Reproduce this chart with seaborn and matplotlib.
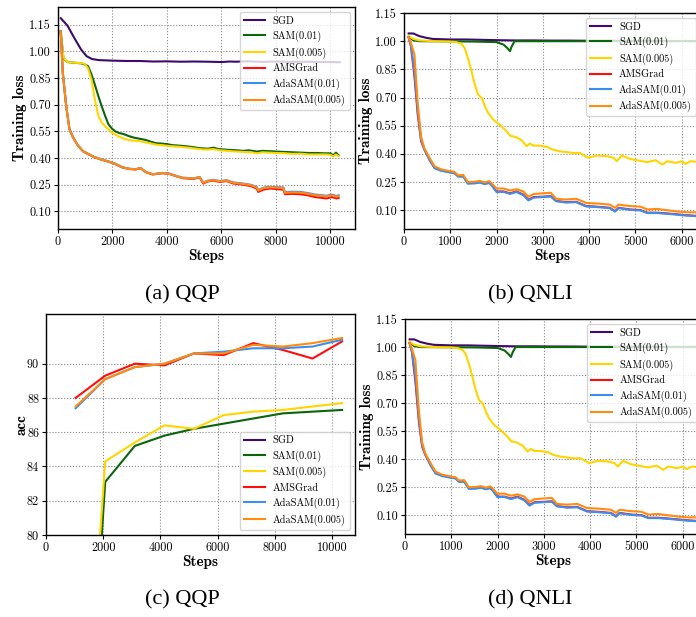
import matplotlib
matplotlib.use("Agg")
import matplotlib.pyplot as plt
import seaborn as sns

# ---------------- data ----------------
names = ["SGD", "SAM(0.01)", "SAM(0.005)", "AMSGrad", "AdaSAM(0.01)", "AdaSAM(0.005)"]
colors = ["#3d0b6b", "#0b650b", "#ffd500", "#ff0d0d", "#3b8ef0", "#ff8c10"]

# (a) QQP training loss
qqp_sgd_x = [100, 350, 600, 850, 1050, 1250, 1500, 2000, 2500, 3000, 3500, 4000, 4500, 5000,
             5500, 6000, 6300, 6500, 7000, 7500, 8000, 8500, 9000, 9500, 10000, 10350]
qqp_sgd_y = [1.187, 1.145, 1.075, 1.01, 0.973, 0.957, 0.951, 0.948, 0.946, 0.946, 0.943, 0.944,
             0.942, 0.943, 0.942, 0.940, 0.943, 0.942, 0.944, 0.941, 0.943, 0.941, 0.942, 0.941,
             0.940, 0.939]

qqp_sam01_x = [100, 200, 350, 600, 850, 1000, 1100, 1230, 1350, 1480, 1600, 1730, 1850, 1975,
               2100, 2250, 2400, 2600, 2800, 3000, 3200, 3400, 3600, 3800, 4000, 4200, 4400,
               4700, 5000, 5200, 5500, 5700, 5900, 6200, 6500, 6800, 7000, 7300, 7500, 7800,
               8000, 8300, 8600, 8900, 9200, 9500, 9800, 10000, 10100, 10200, 10300]
qqp_sam01_y = [1.113, 0.96, 0.940, 0.936, 0.933, 0.925, 0.917, 0.87, 0.814, 0.749, 0.693, 0.637,
               0.59, 0.566, 0.55, 0.54, 0.535, 0.523, 0.514, 0.508, 0.502, 0.492, 0.483, 0.481,
               0.478, 0.472, 0.470, 0.466, 0.460, 0.455, 0.452, 0.458, 0.450, 0.446, 0.444, 0.440,
               0.443, 0.436, 0.440, 0.438, 0.436, 0.434, 0.432, 0.430, 0.428, 0.428, 0.426, 0.426,
               0.414, 0.430, 0.415]

qqp_sam005_x = [100, 200, 350, 600, 850, 980, 1100, 1230, 1350, 1480, 1600, 1700, 1800, 1975,
                2220, 2470, 2700, 2850, 3000, 3200, 3400, 3600, 3800, 4100, 4400, 4800, 5100,
                5300, 5500, 5700, 5900, 6200, 6500, 6800, 7100, 7300, 7500, 7800, 8000, 8300,
                8600, 8900, 9200, 9500, 9800, 10000, 10100, 10200, 10300]
qqp_sam005_y = [1.113, 0.963, 0.940, 0.936, 0.934, 0.930, 0.905, 0.842, 0.73, 0.637, 0.60, 0.583,
                0.568, 0.544, 0.521, 0.506, 0.498, 0.497, 0.495, 0.488, 0.482, 0.475, 0.472,
                0.467, 0.464, 0.458, 0.452, 0.448, 0.447, 0.450, 0.444, 0.440, 0.437, 0.434,
                0.432, 0.426, 0.432, 0.430, 0.428, 0.427, 0.423, 0.424, 0.420, 0.420, 0.420,
                0.418, 0.408, 0.420, 0.410]

qqp_ada_x = [100, 175, 300, 420, 550, 730, 920, 1100, 1350, 1600, 1850, 2100, 2350, 2600, 2850,
             3030, 3220, 3470, 3840, 4090, 4340, 4580, 4960, 5200, 5330, 5500, 5700, 5950, 6190,
             6440, 6680, 6930, 7100, 7290, 7350, 7550, 7780, 8000, 8270, 8330, 8600, 8880, 9150,
             9430, 9650, 9860, 10045, 10230, 10300]
qqp_ams_y = [1.113, 0.88, 0.693, 0.562, 0.516, 0.469, 0.437, 0.422, 0.403, 0.39, 0.379, 0.366,
             0.347, 0.338, 0.335, 0.342, 0.32, 0.307, 0.314, 0.31, 0.297, 0.286, 0.282, 0.29,
             0.256, 0.268, 0.272, 0.265, 0.27, 0.256, 0.252, 0.246, 0.240, 0.228, 0.209, 0.222,
             0.228, 0.225, 0.222, 0.196, 0.198, 0.196, 0.19, 0.18, 0.176, 0.172, 0.18, 0.172, 0.175]
qqp_ada01_y = [1.113, 0.88, 0.695, 0.564, 0.518, 0.471, 0.439, 0.424, 0.405, 0.392, 0.381, 0.368,
               0.349, 0.340, 0.337, 0.344, 0.322, 0.309, 0.316, 0.312, 0.299, 0.289, 0.285, 0.293,
               0.262, 0.272, 0.277, 0.270, 0.275, 0.262, 0.258, 0.253, 0.248, 0.237, 0.220, 0.233,
               0.238, 0.236, 0.234, 0.208, 0.210, 0.209, 0.203, 0.194, 0.191, 0.187, 0.194, 0.186,
               0.190]
qqp_ada005_y = [1.113, 0.88, 0.694, 0.563, 0.517, 0.470, 0.438, 0.423, 0.404, 0.391, 0.380, 0.367,
                0.348, 0.339, 0.336, 0.343, 0.321, 0.308, 0.315, 0.311, 0.298, 0.288, 0.284, 0.292,
                0.260, 0.271, 0.275, 0.268, 0.273, 0.260, 0.256, 0.251, 0.246, 0.234, 0.216, 0.230,
                0.235, 0.233, 0.230, 0.204, 0.206, 0.205, 0.199, 0.190, 0.187, 0.183, 0.190, 0.182,
                0.186]

# (b)/(d) QNLI training loss
qnli_sgd_x = [100, 200, 330, 480, 620, 1000, 1350, 1700, 2100, 2400, 2800, 3200, 3600, 4000,
              4500, 5000, 5500, 6000, 6400]
qnli_sgd_y = [1.041, 1.041, 1.027, 1.018, 1.012, 1.009, 1.009, 1.007, 1.005, 1.004, 1.004,
              1.003, 1.003, 1.002, 1.002, 1.002, 1.001, 1.001, 1.001]

qnli_sam01_x = [100, 200, 330, 1000, 1500, 2000, 2150, 2230, 2290, 2330, 2390, 3000, 4000, 5000,
                6000, 6400]
qnli_sam01_y = [1.023, 1.005, 1.0, 0.999, 0.998, 0.995, 0.982, 0.964, 0.947, 0.973, 1.0, 1.0,
                1.0, 1.0, 1.0, 1.0]

qnli_sam005_x = [100, 200, 330, 620, 990, 1130, 1240, 1310, 1380, 1460, 1530, 1600, 1680, 1750,
                 1820, 1930, 2070, 2220, 2290, 2430, 2540, 2650, 2720, 2800, 2940, 3090, 3210,
                 3360, 3650, 3800, 3980, 4160, 4380, 4530, 4600, 4710, 4890, 5040, 5260, 5440,
                 5580, 5690, 5880, 6000, 6090, 6200, 6400]
qnli_sam005_y = [1.027, 1.012, 1.004, 1.0, 0.998, 0.995, 0.986, 0.964, 0.911, 0.84, 0.769, 0.716,
                 0.698, 0.653, 0.618, 0.582, 0.555, 0.52, 0.497, 0.488, 0.473, 0.441, 0.455, 0.444,
                 0.444, 0.437, 0.423, 0.414, 0.405, 0.405, 0.379, 0.391, 0.388, 0.379, 0.361,
                 0.391, 0.373, 0.366, 0.356, 0.366, 0.343, 0.361, 0.352, 0.361, 0.347, 0.361, 0.356]

qnli_ada_x = [100, 150, 225, 300, 370, 440, 550, 660, 800, 990, 1090, 1170, 1280, 1380, 1530,
              1640, 1750, 1840, 1890, 2000, 2150, 2290, 2430, 2580, 2690, 2800, 2990, 3175, 3285,
              3500, 3720, 3940, 4160, 4450, 4560, 4640, 4890, 5110, 5260, 5470, 5690, 5910, 6130,
              6400]
qnli_ams_y = [1.02, 0.973, 0.814, 0.601, 0.468, 0.423, 0.37, 0.326, 0.313, 0.303, 0.299, 0.281,
              0.281, 0.245, 0.245, 0.25, 0.241, 0.248, 0.236, 0.2, 0.2, 0.19, 0.2, 0.183, 0.156,
              0.17, 0.172, 0.175, 0.15, 0.143, 0.145, 0.122, 0.119, 0.113, 0.095, 0.113, 0.104,
              0.101, 0.087, 0.087, 0.083, 0.078, 0.073, 0.069]
qnli_ada01_y = [1.02, 0.98, 0.84, 0.62, 0.475, 0.425, 0.368, 0.324, 0.31, 0.301, 0.297, 0.279,
                0.279, 0.241, 0.243, 0.247, 0.239, 0.245, 0.234, 0.197, 0.198, 0.187, 0.197,
                0.180, 0.152, 0.167, 0.170, 0.173, 0.148, 0.141, 0.143, 0.120, 0.117, 0.111,
                0.093, 0.111, 0.102, 0.099, 0.085, 0.085, 0.081, 0.076, 0.071, 0.067]
qnli_ada005_y = [1.02, 0.99, 0.93, 0.66, 0.49, 0.43, 0.38, 0.334, 0.318, 0.308, 0.304, 0.286,
                 0.288, 0.25, 0.252, 0.256, 0.248, 0.255, 0.245, 0.215, 0.216, 0.205, 0.212, 0.2,
                 0.172, 0.186, 0.19, 0.193, 0.161, 0.157, 0.161, 0.139, 0.136, 0.13, 0.113, 0.13,
                 0.122, 0.119, 0.104, 0.107, 0.1, 0.093, 0.089, 0.089]

# (c) QQP accuracy
acc_steps = [1035, 2070, 3105, 4140, 5175, 6210, 7245, 8280, 9315, 10350]
acc_sgd = [63.2, 63.2, 63.2, 63.2, 63.2, 63.2, 63.2, 63.2, 63.2, 63.2]
acc_sam01 = [56.5, 83.1, 85.2, 85.8, 86.2, 86.5, 86.8, 87.1, 87.2, 87.3]
acc_sam005 = [59.6, 84.3, 85.4, 86.4, 86.2, 87.0, 87.2, 87.3, 87.5, 87.7]
acc_ams = [88.0, 89.3, 90.0, 89.9, 90.6, 90.5, 91.2, 90.8, 90.3, 91.3]
acc_ada01 = [87.4, 89.1, 89.8, 90.0, 90.6, 90.7, 90.9, 90.9, 91.0, 91.4]
acc_ada005 = [87.5, 89.1, 89.8, 90.0, 90.6, 90.6, 91.1, 91.0, 91.2, 91.5]

qqp_loss = [(qqp_sgd_x, qqp_sgd_y), (qqp_sam01_x, qqp_sam01_y), (qqp_sam005_x, qqp_sam005_y),
            (qqp_ada_x, qqp_ams_y), (qqp_ada_x, qqp_ada01_y), (qqp_ada_x, qqp_ada005_y)]
qnli_loss = [(qnli_sgd_x, qnli_sgd_y), (qnli_sam01_x, qnli_sam01_y), (qnli_sam005_x, qnli_sam005_y),
             (qnli_ada_x, qnli_ams_y), (qnli_ada_x, qnli_ada01_y), (qnli_ada_x, qnli_ada005_y)]
qqp_acc = [(acc_steps, a) for a in [acc_sgd, acc_sam01, acc_sam005, acc_ams, acc_ada01, acc_ada005]]

loss_ticks = [0.10, 0.25, 0.40, 0.55, 0.70, 0.85, 1.00, 1.15]

# ---------------- plotting ----------------
plt.rcParams["font.family"] = "cmr10"
plt.rcParams["axes.unicode_minus"] = False
plt.rcParams["axes.linewidth"] = 1.0

fig = plt.figure(figsize=(6.96, 6.17), dpi=100)
W, H = 696, 617


def make_axes(left, top, right, bottom):
    return fig.add_axes([left / W, 1 - bottom / H, (right - left) / W, (bottom - top) / H])


def draw(ax, series, loc):
    for (x, y), name, c in zip(series, names, colors):
        sns.lineplot(x=x, y=y, ax=ax, color=c, label=name, linewidth=1.5)
    ax.grid(True, linestyle=":", color="#888888", linewidth=0.8)
    ax.set_axisbelow(True)
    ax.set_xlabel("Steps", family="cmb10", fontsize=11, labelpad=1)
    ax.tick_params(labelsize=8.8, length=3, width=0.8, pad=2)
    leg = ax.legend(loc=loc, fontsize=7.4, handlelength=2.0, borderaxespad=0.5)
    leg.get_frame().set_edgecolor("#cccccc")


ax_a = make_axes(58, 7, 355, 229)
draw(ax_a, qqp_loss, "upper right")
ax_a.set_xlim(0, 10900)
ax_a.set_ylim(0, 1.25)
ax_a.set_yticks(loss_ticks)
ax_a.set_yticklabels([f"{t:.2f}" for t in loss_ticks])
ax_a.set_xticks(range(0, 10001, 2000))
ax_a.set_ylabel("Training loss", family="cmb10", fontsize=11, labelpad=2)

ax_b = make_axes(404, 13, 701, 229)
draw(ax_b, qnli_loss, "upper right")
ax_b.set_xlim(0, 6420)
ax_b.set_ylim(0, 1.15)
ax_b.set_yticks(loss_ticks)
ax_b.set_yticklabels([f"{t:.2f}" for t in loss_ticks])
ax_b.set_xticks(range(0, 6001, 1000))
ax_b.set_ylabel("Training loss", family="cmb10", fontsize=11, labelpad=2)

ax_c = make_axes(46, 314, 355, 535)
draw(ax_c, qqp_acc, "lower right")
ax_c.set_xlim(0, 10800)
ax_c.set_ylim(80, 92.9)
ax_c.set_yticks([80, 82, 84, 86, 88, 90])
ax_c.set_xticks(range(0, 10001, 2000))
ax_c.set_ylabel("acc", family="cmb10", fontsize=11, labelpad=-1)

ax_d = make_axes(405, 319, 702, 534)
draw(ax_d, qnli_loss, "upper right")
ax_d.set_xlim(0, 6420)
ax_d.set_ylim(0, 1.15)
ax_d.set_yticks(loss_ticks)
ax_d.set_yticklabels([f"{t:.2f}" for t in loss_ticks])
ax_d.set_xticks(range(0, 6001, 1000))
ax_d.set_ylabel("Training loss", family="cmb10", fontsize=11, labelpad=2)

# sub-figure captions
for txt, cx, cy in [("(a) QQP", 182, 295), ("(b) QNLI", 530, 295),
                    ("(c) QQP", 182, 600), ("(d) QNLI", 530, 600)]:
    fig.text(cx / W, 1 - cy / H, txt, ha="center", va="center",
             family="Liberation Serif", fontsize=16)

fig.savefig("out.png", dpi=100)
